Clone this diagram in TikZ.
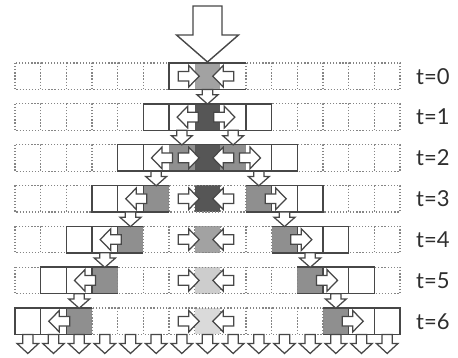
\documentclass[tikz,border=0pt]{standalone}
\usepackage{fontspec}
\setmainfont{Lato}
\definecolor{lineC}{HTML}{474747}
\definecolor{dotC}{HTML}{858585}
\definecolor{sideG}{HTML}{8F8F8F}
\definecolor{midG}{HTML}{A2A2A2}
\definecolor{darkG}{HTML}{565656}
\definecolor{lightG}{HTML}{CDCDCD}
\definecolor{paleG}{HTML}{DADADA}
\definecolor{textC}{HTML}{2E2E2E}
\def\myX#1{(15+(#1)*25.6667)}
\def\myT#1{(63+(#1)*40.83)}
\def\myB#1{(89.5+(#1)*40.83)}
\def\myM#1{(76.25+(#1)*40.83)}
\begin{document}
\begin{tikzpicture}[x=1pt,y=-1pt,
  dotcell/.style={draw=dotC, line width=1.25pt, dash pattern=on 1.25pt off 1.85pt},
  solidline/.style={draw=lineC, line width=1.6pt, line join=miter},
  arrowshape/.style={draw=lineC, line width=1.25pt, fill=white, line join=miter},
  tlabel/.style={anchor=west, inner sep=0pt, font=\fontsize{22}{24}\selectfont, text=textC},
  harrow/.pic={\path[arrowshape] (0,-4.8) -- (10.5,-4.8) -- (10.5,-10.8) -- (21,0) -- (10.5,10.8) -- (10.5,4.8) -- (0,4.8) -- cycle;},
  darrow/.pic={\path[arrowshape] (-5.2,0) -- (5.2,0) -- (5.2,5.3) -- (10.5,5.3) -- (0,14.6) -- (-10.5,5.3) -- (-5.2,5.3) -- cycle;},
  barrow/.pic={\path[arrowshape] (-5.2,0) -- (5.2,0) -- (5.2,9) -- (10.8,9) -- (0,19) -- (-10.8,9) -- (-5.2,9) -- cycle;}
]
\useasboundingbox (0,0) rectangle (458,358);

% ---------- fills ----------
\fill[midG]   ({\myX{7}},{\myT{0}}) rectangle ({\myX{8}},{\myB{0}});
\fill[darkG]  ({\myX{7}},{\myT{1}}) rectangle ({\myX{8}},{\myB{1}});
\fill[sideG]  ({\myX{6}},{\myT{2}}) rectangle ({\myX{7}},{\myB{2}});
\fill[darkG]  ({\myX{7}},{\myT{2}}) rectangle ({\myX{8}},{\myB{2}});
\fill[sideG]  ({\myX{8}},{\myT{2}}) rectangle ({\myX{9}},{\myB{2}});
\fill[darkG]  ({\myX{7}},{\myT{3}}) rectangle ({\myX{8}},{\myB{3}});
\fill[midG]   ({\myX{7}},{\myT{4}}) rectangle ({\myX{8}},{\myB{4}});
\fill[lightG] ({\myX{7}},{\myT{5}}) rectangle ({\myX{8}},{\myB{5}});
\fill[paleG]  ({\myX{7}},{\myT{6}}) rectangle ({\myX{8}},{\myB{6}});
\foreach \t in {3,4,5,6}{
  \fill[sideG] ({\myX{8-\t}},{\myT{\t}}) rectangle ({\myX{9-\t}},{\myB{\t}});
  \fill[sideG] ({\myX{6+\t}},{\myT{\t}}) rectangle ({\myX{7+\t}},{\myB{\t}});
}

% ---------- dotted cells ----------
\foreach \i in {0,1,2,3,4,5,9,10,11,12,13,14}
  \path[dotcell] ({\myX{\i}},{\myT{0}}) rectangle ({\myX{\i+1}},{\myB{0}});
\foreach \i in {0,1,2,3,4,10,11,12,13,14}
  \path[dotcell] ({\myX{\i}},{\myT{1}}) rectangle ({\myX{\i+1}},{\myB{1}});
\foreach \i in {0,1,2,3,11,12,13,14}
  \path[dotcell] ({\myX{\i}},{\myT{2}}) rectangle ({\myX{\i+1}},{\myB{2}});
\foreach \i in {0,1,2,6,7,8,12,13,14}
  \path[dotcell] ({\myX{\i}},{\myT{3}}) rectangle ({\myX{\i+1}},{\myB{3}});
\foreach \i in {0,1,5,6,7,8,9,13,14}
  \path[dotcell] ({\myX{\i}},{\myT{4}}) rectangle ({\myX{\i+1}},{\myB{4}});
\foreach \i in {0,4,5,6,7,8,9,10,14}
  \path[dotcell] ({\myX{\i}},{\myT{5}}) rectangle ({\myX{\i+1}},{\myB{5}});
\foreach \i in {3,4,5,6,7,8,9,10,11}
  \path[dotcell] ({\myX{\i}},{\myT{6}}) rectangle ({\myX{\i+1}},{\myB{6}});

% ---------- solid boxes ----------
\path[solidline] ({\myX{9}},{\myT{0}}) -- ({\myX{6}},{\myT{0}}) -- ({\myX{6}},{\myB{0}}) -- ({\myX{9}},{\myB{0}});
\path[solidline] ({\myX{5}},{\myT{1}}) rectangle ({\myX{10}},{\myB{1}});
\path[solidline] ({\myX{6}},{\myT{1}}) -- ({\myX{6}},{\myB{1}}) ({\myX{9}},{\myT{1}}) -- ({\myX{9}},{\myB{1}});
\path[solidline] ({\myX{4}},{\myT{2}}) rectangle ({\myX{11}},{\myB{2}});
\path[solidline] ({\myX{5}},{\myT{2}}) -- ({\myX{5}},{\myB{2}}) ({\myX{10}},{\myT{2}}) -- ({\myX{10}},{\myB{2}});
\foreach \t in {3,4,5,6}{
  \path[solidline] ({\myX{9-\t}},{\myT{\t}}) -- ({\myX{6-\t}},{\myT{\t}}) -- ({\myX{6-\t}},{\myB{\t}}) -- ({\myX{9-\t}},{\myB{\t}});
  \path[solidline] ({\myX{7-\t}},{\myT{\t}}) -- ({\myX{7-\t}},{\myB{\t}}) ({\myX{8-\t}},{\myT{\t}}) -- ({\myX{8-\t}},{\myB{\t}});
  \path[solidline] ({\myX{6+\t}},{\myT{\t}}) -- ({\myX{9+\t}},{\myT{\t}}) -- ({\myX{9+\t}},{\myB{\t}}) -- ({\myX{6+\t}},{\myB{\t}});
  \path[solidline] ({\myX{7+\t}},{\myT{\t}}) -- ({\myX{7+\t}},{\myB{\t}}) ({\myX{8+\t}},{\myT{\t}}) -- ({\myX{8+\t}},{\myB{\t}});
}

% ---------- horizontal arrows ----------
% t=0 inward
\pic at ({\myX{7}-16.5},{\myM{0}}) {harrow};
\pic[xscale=-1] at ({\myX{8}+13.5},{\myM{0}}) {harrow};
% t=1 outward
\pic[xscale=-1] at ({\myX{7}+3.5},{\myM{1}}) {harrow};
\pic at ({\myX{8}-6.5},{\myM{1}}) {harrow};
% t=2
\pic[xscale=-1] at ({\myX{6}+3.5},{\myM{2}}) {harrow};
\pic at ({\myX{7}-16.5},{\myM{2}}) {harrow};
\pic[xscale=-1] at ({\myX{8}+13.5},{\myM{2}}) {harrow};
\pic at ({\myX{9}-6.5},{\myM{2}}) {harrow};
% t=3..6
\foreach \t in {3,4,5,6}{
  \pic[xscale=-1] at ({\myX{8-\t}+3.5},{\myM{\t}}) {harrow};
  \pic at ({\myX{7}-16.5},{\myM{\t}}) {harrow};
  \pic[xscale=-1] at ({\myX{8}+13.5},{\myM{\t}}) {harrow};
  \pic at ({\myX{7+\t}-6.5},{\myM{\t}}) {harrow};
}

% ---------- vertical arrows ----------
\path[arrowshape, line width=1.4pt] (193,6) -- (222,6) -- (222,35) -- (238.5,35) -- (207.5,62) -- (176.5,35) -- (193,35) -- cycle;
\pic at ({\myX{7.5}},{\myB{0}}) {darrow};
\foreach \t in {1,2,3,4,5}{
  \pic at ({\myX{7.5-\t}},{\myB{\t}}) {darrow};
  \pic at ({\myX{7.5+\t}},{\myB{\t}}) {darrow};
}
\foreach \i in {0,1,2,3,4,5,6,7,8,9,10,11,12,13,14}
  \pic at ({\myX{\i+0.5}},{\myB{6}}) {barrow};

% ---------- labels ----------
\node[tlabel] (l0) at (416,{\myM{0}}) {t=0};
\node[tlabel] (l1) at (416,{\myM{1}}) {t=1};
\node[tlabel] (l2) at (416,{\myM{2}}) {t=2};
\node[tlabel] (l3) at (416,{\myM{3}}) {t=3};
\node[tlabel] (l4) at (416,{\myM{4}}) {t=4};
\node[tlabel] (l5) at (416,{\myM{5}}) {t=5};
\node[tlabel] (l6) at (416,{\myM{6}}) {t=6};
\end{tikzpicture}
\end{document}
